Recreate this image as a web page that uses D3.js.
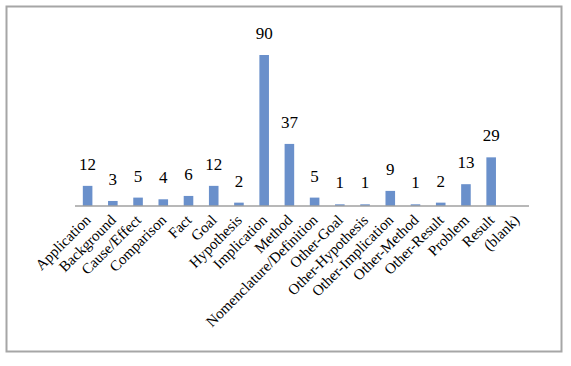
<!DOCTYPE html>
<html>
<head>
<meta charset="utf-8">
<script src="https://cdn.jsdelivr.net/npm/d3@7"></script>
<style>
  body { margin: 0; background: #fff; }
</style>
</head>
<body>
<div id="chart"></div>
<script>
const categories = ["Application", "Background", "Cause/Effect", "Comparison", "Fact", "Goal",
  "Hypothesis", "Implication", "Method", "Nomenclature/Definition", "Other-Goal",
  "Other-Hypothesis", "Other-Implication", "Other-Method", "Other-Result", "Problem",
  "Result", "(blank)"];
const counts = [12, 3, 5, 4, 6, 12, 2, 90, 37, 5, 1, 1, 9, 1, 2, 13, 29, null];

const width = 571, height = 366;
const barColor = "#6A90CB";
const serif = "Liberation Serif";

const svg = d3.select("#chart")
  .append("svg")
  .attr("width", width)
  .attr("height", height);

// outer frame
svg.append("rect")
  .attr("x", 6.5).attr("y", 6.5)
  .attr("width", 555).attr("height", 345)
  .attr("fill", "#fff")
  .attr("stroke", "#A6A6A6")
  .attr("stroke-width", 2);

const x = d3.scaleBand()
  .domain(categories)
  .range([75, 529])
  .paddingInner(0.62)
  .paddingOuter(0.31);

const y = d3.scaleLinear()
  .domain([0, 90])
  .range([206, 55]);

const data = categories.map((c, i) => ({ category: c, count: counts[i] }));

svg.selectAll("rect.bar")
  .data(data.filter(d => d.count != null))
  .enter()
  .append("rect")
  .attr("class", "bar")
  .attr("x", d => x(d.category))
  .attr("y", d => y(d.count))
  .attr("width", x.bandwidth())
  .attr("height", d => y(0) - y(d.count))
  .attr("fill", barColor);

// value labels
svg.selectAll("text.value")
  .data(data.filter(d => d.count != null))
  .enter()
  .append("text")
  .attr("class", "value")
  .attr("x", d => x(d.category) + x.bandwidth() / 2)
  .attr("y", d => y(d.count) - 16)
  .attr("text-anchor", "middle")
  .attr("font-family", serif)
  .attr("font-size", 17)
  .text(d => d.count);

// category axis
svg.append("line")
  .attr("x1", 75).attr("x2", 529)
  .attr("y1", y(0)).attr("y2", y(0))
  .attr("stroke", "#A0A0A0")
  .attr("stroke-width", 1.5);

svg.selectAll("text.cat")
  .data(categories)
  .enter()
  .append("text")
  .attr("class", "cat")
  .attr("text-anchor", "end")
  .attr("font-family", serif)
  .attr("font-size", 15)
  .attr("transform", d => {
    const cx = x(d) + x.bandwidth() / 2 + 4;
    return `translate(${cx},${y(0) + 15}) rotate(-45)`;
  })
  .text(d => d);
</script>
</body>
</html>
